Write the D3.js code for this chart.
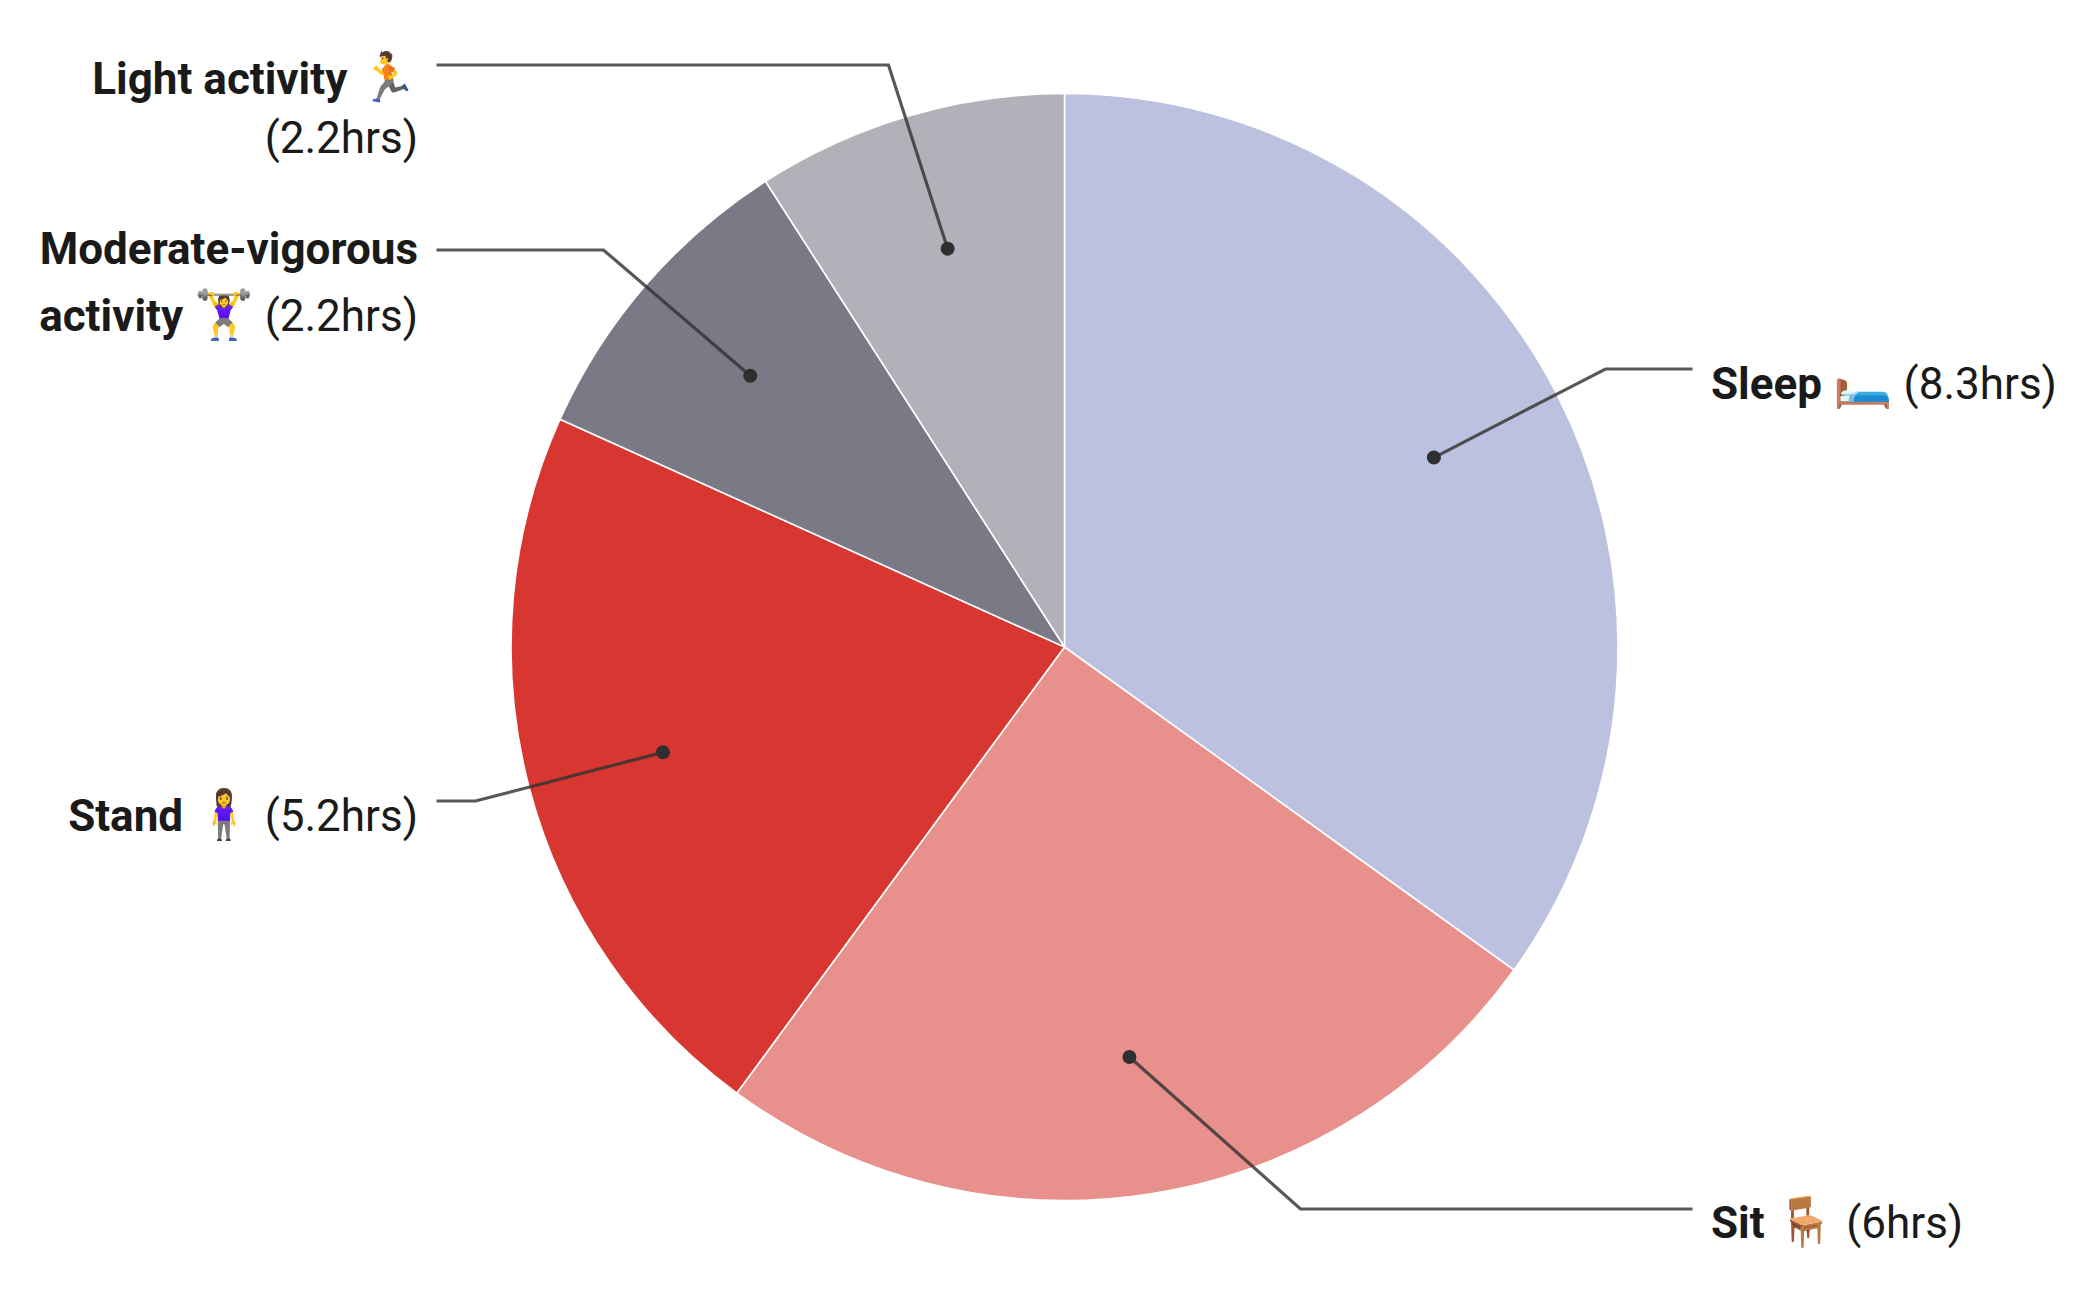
<!DOCTYPE html>
<html>
<head>
<meta charset="utf-8">
<script src="https://cdn.jsdelivr.net/npm/d3@7"></script>
<style>
    html, body { margin: 0; padding: 0; background: #fff; }
    svg { display: block; }
    text { font-family: Roboto, sans-serif; font-size: 44px; fill: #1a1a1a; }
    .name { font-weight: 700; }
    .emoji { font-family: "Noto Color Emoji", "Apple Color Emoji", Roboto, sans-serif; font-size: 48px; }
    .leader { fill: none; stroke: #333; stroke-opacity: 0.82; stroke-width: 3.2; }
    .dot { fill: #2f2f2f; }
    .slice { stroke: #fff; stroke-width: 1.6; }
</style>
</head>
<body>
<div id="chart"></div>
<script>
'use strict';
var categories = ['Sleep', 'Sit', 'Stand', 'Moderate-vigorous activity', 'Light activity'];
var emojis = ['\u{1F6CF}\uFE0F', '\u{1FA91}', '\u{1F9CD}\u200D\u2640\uFE0F', '\u{1F3CB}\uFE0F\u200D\u2640\uFE0F', '\u{1F3C3}'];
var hours = [8.38, 6.04, 5.2, 2.2, 2.18];
var hourLabels = ['(8.3hrs)', '(6hrs)', '(5.2hrs)', '(2.2hrs)', '(2.2hrs)'];
var colors = ['#bcc1e0', '#e8908c', '#d73730', '#7a7a87', '#b1b1b9'];

var width = 2094;
var height = 1290;
var cx = 1064.5;
var cy = 647;
var radius = 553.5;

var svg = d3.select('#chart').append('svg')
    .attr('width', width)
    .attr('height', height);

var pie = d3.pie().sort(null).value(function(d) { return d; });
var arcs = pie(hours);
var arc = d3.arc().innerRadius(0).outerRadius(radius);
var dotArc = d3.arc().innerRadius(radius * 0.75).outerRadius(radius * 0.75);

var chart = svg.append('g')
    .attr('transform', 'translate(' + cx + ',' + cy + ')');

chart.selectAll('path.slice')
    .data(arcs)
    .enter()
    .append('path')
    .attr('class', 'slice')
    .attr('d', arc)
    .attr('fill', function(d, i) { return colors[i]; });

// leader layout, relative to the pie centre
var leaderY = [-278, 562, 154, -397, -582];
var leaderEndX = [628, 628, -628, -628, -628];
var elbowX = [541, 236, -589, -461, -176];

arcs.forEach(function(d, i) {
    var dot = dotArc.centroid(d);
    var y = leaderY[i];
    chart.append('path')
        .attr('class', 'leader')
        .attr('d', d3.line()([dot, [elbowX[i], y], [leaderEndX[i], y]]));
    chart.append('circle')
        .attr('class', 'dot')
        .attr('cx', dot[0])
        .attr('cy', dot[1])
        .attr('r', 7);
});

function addLine(x, y, anchor, parts) {
    var t = svg.append('text')
        .attr('x', x)
        .attr('y', y)
        .attr('text-anchor', anchor);
    parts.forEach(function(p) {
        t.append('tspan').attr('class', p[1]).text(p[0]);
    });
}

addLine(1711, 399, 'start', [[categories[0], 'name'], [' ', ''], [emojis[0], 'emoji'], [' ' + hourLabels[0], '']]);
addLine(1711, 1238, 'start', [[categories[1], 'name'], [' ', ''], [emojis[1], 'emoji'], [' ' + hourLabels[1], '']]);
addLine(418, 831, 'end', [[categories[2], 'name'], [' ', ''], [emojis[2], 'emoji'], [' ' + hourLabels[2], '']]);
addLine(418, 264, 'end', [['Moderate-vigorous', 'name']]);
addLine(418, 331, 'end', [['activity', 'name'], [' ', ''], [emojis[3], 'emoji'], [' ' + hourLabels[3], '']]);
addLine(418, 94, 'end', [[categories[4], 'name'], [' ', ''], [emojis[4], 'emoji']]);
addLine(418, 153, 'end', [[hourLabels[4], '']]);
</script>
</body>
</html>
